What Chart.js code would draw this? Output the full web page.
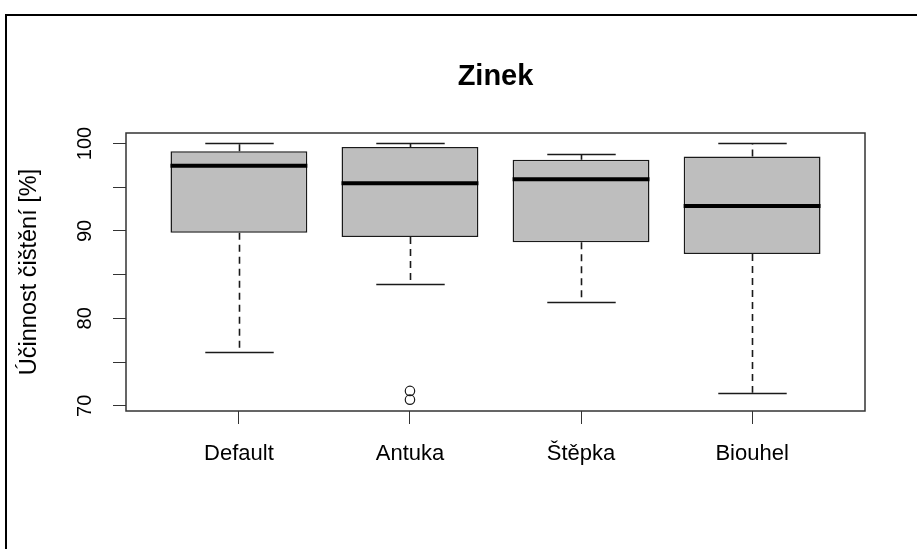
<!DOCTYPE html>
<html lang="cs">
<head>
    <meta charset="UTF-8">
    <title>Zinek</title>
    <script src="https://cdn.jsdelivr.net/npm/chart.js@4.4.1/dist/chart.umd.min.js"></script>
    <style>
        body { margin: 0; background: #fff; }
        canvas { display: block; }
    </style>
</head>
<body>
<canvas id="chart" width="917" height="549"></canvas>
<script>
    // values
    const chartTitle = "Zinek";
    const categories = ["Default", "Antuka", "Štěpka", "Biouhel"];
    const whiskerLow = [76.1, 83.95, 81.9, 71.5];
    const q1 = [89.8, 89.3, 88.7, 87.35];
    const median = [97.45, 95.45, 95.9, 92.85];
    const q3 = [99.1, 99.6, 98.15, 98.5];
    const whiskerHigh = [100, 100, 98.8, 100];
    const outliers = [[], [71.7, 70.7], [], []];
    const yTicks = [70, 75, 80, 85, 90, 95, 100];
    const yLabels = [70, 80, 90, 100];

    const font = "'Liberation Sans', Arial, sans-serif";
    const ink = "#1a1a1a";

    let boxData = categories.map((c, i) => ({x: i + 1, y: [q1[i], q3[i]]}));
    let outlierData = [];
    outliers.forEach((list, i) => list.forEach(v => outlierData.push({x: i + 1, y: v})));

    const boxPlugin = {
        id: "boxParts",
        beforeDraw(chart) {
            let ctx = chart.ctx;
            ctx.save();
            ctx.fillStyle = "#fff";
            ctx.fillRect(0, 0, chart.width, chart.height);
            // outer frame (top and left edge of the screenshot)
            ctx.strokeStyle = "#000";
            ctx.lineWidth = 2;
            ctx.beginPath();
            ctx.moveTo(6, chart.height);
            ctx.lineTo(6, 15);
            ctx.lineTo(chart.width, 15);
            ctx.stroke();
            ctx.restore();
        },
        beforeDatasetsDraw(chart) {
            let ctx = chart.ctx, xs = chart.scales.x, ys = chart.scales.y;
            let half = (xs.getPixelForValue(1.2) - xs.getPixelForValue(1)) ;
            ctx.save();
            ctx.strokeStyle = ink;
            ctx.lineWidth = 1.6;
            for (let i = 0; i < categories.length; i++) {
                let cx = Math.round(xs.getPixelForValue(i + 1)) + 0.5;
                // dashed whiskers
                ctx.setLineDash([7, 5]);
                ctx.beginPath();
                ctx.moveTo(cx, ys.getPixelForValue(q3[i]));
                ctx.lineTo(cx, ys.getPixelForValue(whiskerHigh[i]));
                ctx.moveTo(cx, ys.getPixelForValue(q1[i]));
                ctx.lineTo(cx, ys.getPixelForValue(whiskerLow[i]));
                ctx.stroke();
                // caps
                ctx.setLineDash([]);
                ctx.beginPath();
                [whiskerHigh[i], whiskerLow[i]].forEach(v => {
                    let y = Math.round(ys.getPixelForValue(v)) + 0.5;
                    ctx.moveTo(cx - half, y);
                    ctx.lineTo(cx + half, y);
                });
                ctx.stroke();
            }
            ctx.restore();
        },
        afterDatasetsDraw(chart) {
            let ctx = chart.ctx, xs = chart.scales.x, ys = chart.scales.y;
            let area = chart.chartArea;
            let half = (xs.getPixelForValue(1.4) - xs.getPixelForValue(1));
            ctx.save();
            ctx.strokeStyle = "#000";
            ctx.lineWidth = 4;
            for (let i = 0; i < categories.length; i++) {
                let cx = xs.getPixelForValue(i + 1);
                let y = ys.getPixelForValue(median[i]);
                ctx.beginPath();
                ctx.moveTo(cx - half, y);
                ctx.lineTo(cx + half, y);
                ctx.stroke();
            }
            // plot box
            ctx.strokeStyle = "#333";
            ctx.lineWidth = 1.5;
            ctx.strokeRect(area.left, area.top, area.right - area.left, area.bottom - area.top);
            // rotated y tick labels, R style
            ctx.fillStyle = "#000";
            ctx.font = "20px " + font;
            ctx.textAlign = "center";
            ctx.textBaseline = "middle";
            yLabels.forEach(v => {
                ctx.save();
                ctx.translate(85, ys.getPixelForValue(v));
                ctx.rotate(-Math.PI / 2);
                ctx.fillText(String(v), 0, 0);
                ctx.restore();
            });
            // title centred over the plot region, like R
            ctx.font = "bold 29px " + font;
            ctx.fillText(chartTitle, (area.left + area.right) / 2, 77);
            ctx.restore();
        }
    };

    new Chart("chart", {
        type: "bar",
        data: {
            datasets: [{
                data: boxData,
                backgroundColor: "#bebebe",
                borderColor: ink,
                borderWidth: 1.5,
                borderSkipped: false,
                barPercentage: 0.8,
                categoryPercentage: 1
            }, {
                type: "scatter",
                data: outlierData,
                pointStyle: "circle",
                pointRadius: 4.7,
                pointBorderWidth: 1.2,
                pointBorderColor: ink,
                pointBackgroundColor: "rgba(0,0,0,0)"
            }]
        },
        options: {
            responsive: false,
            animation: false,
            layout: {padding: {left: 0, right: 52, top: 133, bottom: 0}},
            plugins: {
                legend: {display: false},
                tooltip: {enabled: false},
                title: {display: false}
            },
            scales: {
                x: {
                    type: "linear",
                    min: 0.34,
                    max: 4.66,
                    offset: false,
                    afterBuildTicks: s => { s.ticks = categories.map((c, i) => ({value: i + 1})); },
                    afterFit: s => { s.height = 138; },
                    border: {display: false},
                    grid: {drawOnChartArea: false, drawTicks: true, tickLength: 13, color: "#333", offset: false},
                    ticks: {
                        color: "#000",
                        padding: 17,
                        maxRotation: 0,
                        autoSkip: false,
                        font: {family: font, size: 22},
                        callback: v => categories[v - 1]
                    }
                },
                y: {
                    min: 69.4,
                    max: 101.2,
                    afterBuildTicks: s => { s.ticks = yTicks.map(v => ({value: v})); },
                    afterFit: s => { s.width = 126; },
                    border: {display: false},
                    grid: {drawOnChartArea: false, drawTicks: true, tickLength: 13, color: "#333"},
                    ticks: {display: false},
                    title: {
                        display: true,
                        text: "Účinnost čištění [%]",
                        color: "#000",
                        font: {family: font, size: 23.5},
                        padding: {top: 15, bottom: 0}
                    }
                }
            }
        },
        plugins: [boxPlugin]
    });
</script>
</body>
</html>
